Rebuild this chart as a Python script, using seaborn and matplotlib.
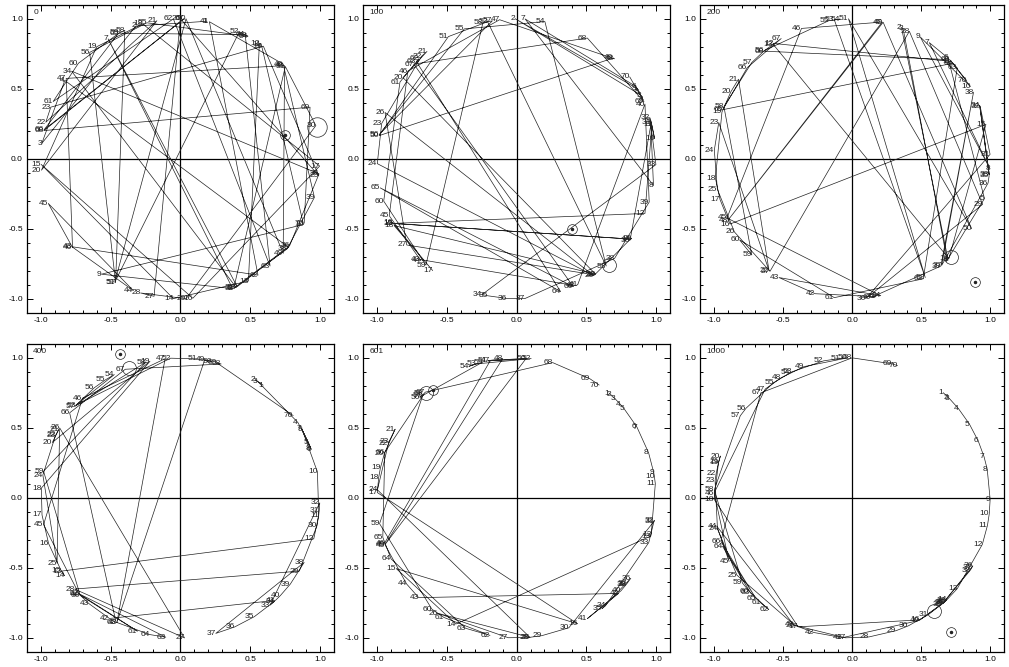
import numpy as np
import pandas as pd
import matplotlib
matplotlib.use("Agg")
import matplotlib.pyplot as plt
from matplotlib.ticker import MultipleLocator, FormatStrFormatter
import seaborn as sns

# snapshot iteration shown in the corner of each panel
titles = ["0", "100", "200", "400", "601", "1000"]

# angle (degrees) of item 1..70 on the unit circle, one list per snapshot
ang_0 = [79, 108.6, 173.7, 146, 320.8, 294, 121.2, 292, 235.5, 332,
         54.5, 55.5, 299.2, 267.1, 182.3, 275.1, 357, 105.7, 126.9, 184.7,
         99.7, 164.9, 158.4, 53.5, 353, 90, 259.1, 253.4, 272.3, 13.7,
         41.2, 292.5, 293.5, 141.3, 353.8, 321.5, 292.7, 320, 344, 42.5,
         78, 303.8, 218.9, 250.3, 198.6, 219.3, 145, 41.7, 317.5, 87.7,
         241.9, 65, 61.6, 61, 103.9, 130.6, 242.3, 113.5, 116, 137,
         155.9, 92.9, 310, 62.3, 116.3, 168.1, 88.5, 168.4, 21.6, 332.6]
ang_100 = [30, 90.6, 27, 25, 28, 31, 86.5, 349, 16, 8.3,
           14, 337, 207.5, 325, 207.5, 207, 233, 208.5, 304.5, 144.6,
           130, 133, 165.4, 182, 303.5, 160.7, 218, 304, 325.5, 324.5,
           15, 17, 357.6, 255.7, 258, 266, 273.4, 314.6, 342, 23,
           296, 295, 226, 226.5, 204, 141.3, 97, 45.5, 46, 170.5,
           119.3, 102, 310, 78.3, 112, 170, 100, 104, 229.4, 197.6,
           146.8, 134.5, 136, 288.4, 192, 294, 137.5, 59.5, 24, 35.8]
ang_200 = [314, 69, 68.3, 313.5, 343.5, 46, 56, 356, 60.4, 31,
           44, 124.6, 125, 314.5, 14.2, 207.8, 197, 188, 160.5, 151.4,
           145.4, 233, 165, 176.5, 192.5, 211.5, 233.5, 65.5, 341, 276,
           1.8, 21.9, 353.5, 22.5, 353, 350, 310.5, 28.4, 310, 278,
           280, 254.5, 238, 282, 205, 111.5, 77.4, 206, 77, 330,
           91.5, 302, 97.4, 95, 99.7, 129.4, 136.6, 158.2, 223.4, 215.4,
           262.6, 301, 40.4, 43, 159.5, 139.4, 120.9, 129.8, 45, 34]
ang_400 = [53.6, 57.5, 56.5, 32.6, 23.2, 20.3, 29.7, 20.8, 29.2, 10.7,
           352.9, 343, 211.5, 213.7, 211, 199, 187, 176, 102.6, 156.7,
           150.8, 153, 153.7, 170.6, 207.8, 150, 271.7, 220.6, 328.5, 348.7,
           355, 358, 310, 312.5, 302, 292.9, 284.7, 332.6, 322, 315.8,
           313, 239.4, 229, 223.5, 191, 134.6, 96.3, 242.9, 80, 77,
           83, 94, 138.5, 118.3, 122.6, 128.2, 139.2, 104.3, 169, 224,
           252, 223, 264, 257.3, 242.5, 142.6, 113.3, 73, 75, 36]
ang_601 = [48.5, 47.5, 45, 42, 39.6, 30.8, 30.2, 18.8, 10.3, 8.9,
           5.8, 344.9, 344.2, 244.2, 210.3, 296, 177.8, 171.5, 167.6, 161.4,
           150.6, 157, 156.4, 176.7, 275.5, 235.4, 266.6, 275, 280.4, 292,
           350.4, 350.8, 341.4, 309.6, 307.7, 325, 322.5, 322, 321.7, 318.5,
           300.5, 317, 225.4, 217.9, 200, 198.8, 100.8, 95.7, 199.4, 86,
           102, 84, 107, 110, 104, 134, 133, 132, 190.6, 232.6,
           238.6, 259, 248.5, 205.8, 196.3, 161, 131, 75, 58.3, 53.7]
ang_1000 = [48.7, 45.8, 45.2, 39.6, 31.8, 24, 17.1, 11.8, 359.4, 353.5,
            348.7, 340.6, 319.6, 313.5, 312.5, 299.5, 247, 180.5, 165.4, 162.6,
            165, 170, 173, 192.8, 213.5, 245.5, 267.3, 277, 288.6, 294,
            303.5, 313, 312, 311.5, 311, 331, 330, 329, 310.5, 298.9,
            266, 253.9, 245, 191.7, 207, 178, 129, 120.9, 110.4, 92,
            95, 102, 115.8, 116.5, 124.6, 140.1, 144.1, 176.7, 217.4, 221.9,
            228.6, 232.9, 222.5, 200.2, 225.8, 198, 131.4, 90, 73.2, 70.8]

# the two marked positions in each snapshot
dot_x = [0.75, 0.40, 0.89, -0.43, -0.60, 0.72]
dot_y = [0.17, -0.50, -0.88, 1.03, 0.77, -0.96]
ring_x = [0.98, 0.66, 0.72, -0.37, -0.65, 0.59]
ring_y = [0.23, -0.76, -0.70, 0.93, 0.75, -0.81]

all_angs = [ang_0, ang_100, ang_200, ang_400, ang_601, ang_1000]

# =============================

sns.set_theme(style="ticks")
plt.rcParams["font.family"] = ["Liberation Sans", "DejaVu Sans"]
plt.rcParams["axes.unicode_minus"] = False

fig = plt.figure(figsize=(10.09, 6.67), dpi=100)
lefts = [0.0268, 0.36, 0.694]
widths = [0.304, 0.304, 0.301]
bottoms = [0.531, 0.0225]
h = 0.462
ink = "#222222"

for k, angs in enumerate(all_angs):
    col, row = k % 3, k // 3
    ax = fig.add_axes([lefts[col], bottoms[row], widths[col], h])
    th = np.deg2rad(np.array(angs))
    df = pd.DataFrame({"x": np.cos(th), "y": np.sin(th), "lab": np.arange(1, 71)})

    ax.axhline(0, color="black", lw=0.9, zorder=1)
    ax.axvline(0, color="black", lw=0.9, zorder=1)
    sns.lineplot(data=df, x="x", y="y", sort=False, estimator=None,
                 color=ink, lw=0.5, ax=ax, zorder=2)
    for _, r in df.iterrows():
        ax.text(r["x"], r["y"], str(int(r["lab"])), ha="right", va="center",
                fontsize=6, color=ink, zorder=3)

    # marked positions
    ax.plot([ring_x[k]], [ring_y[k]], marker="o", ms=14 if k == 0 else 10,
            mfc="none", mec=ink, mew=0.5, ls="none")
    ax.plot([dot_x[k]], [dot_y[k]], marker="o", ms=7, mfc="none",
            mec=ink, mew=0.5, ls="none")
    ax.plot([dot_x[k]], [dot_y[k]], marker="o", ms=1.5, color=ink, ls="none")

    ax.set_xlim(-1.1, 1.1)
    ax.set_ylim(-1.1, 1.1)
    ax.xaxis.set_major_locator(MultipleLocator(0.5))
    ax.yaxis.set_major_locator(MultipleLocator(0.5))
    ax.xaxis.set_minor_locator(MultipleLocator(0.1))
    ax.yaxis.set_minor_locator(MultipleLocator(0.1))
    ax.xaxis.set_major_formatter(FormatStrFormatter("%.1f"))
    ax.yaxis.set_major_formatter(FormatStrFormatter("%.1f"))
    ax.tick_params(which="both", direction="in", top=True, right=True,
                   labelsize=6, pad=3, width=0.7, colors="black")
    ax.tick_params(which="major", length=4)
    ax.tick_params(which="minor", length=2)
    for s in ax.spines.values():
        s.set_linewidth(0.9)
        s.set_color("black")
    ax.set_xlabel("")
    ax.set_ylabel("")
    ax.text(0.02, 0.985, titles[k], transform=ax.transAxes, ha="left", va="top",
            fontsize=6, color=ink)

fig.savefig("out.png", dpi=100)
